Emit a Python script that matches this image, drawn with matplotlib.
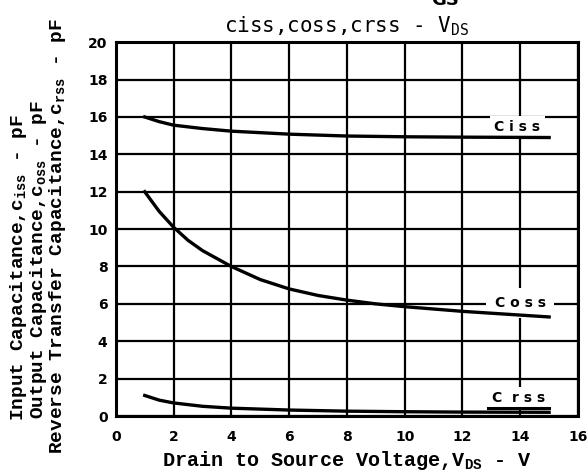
import matplotlib
matplotlib.use("Agg")
import matplotlib.pyplot as plt
from matplotlib.lines import Line2D

plt.rcParams['mathtext.fontset'] = 'custom'
plt.rcParams['mathtext.rm'] = 'Liberation Mono:bold'
plt.rcParams['mathtext.sf'] = 'DejaVu Sans Mono'

# data (V_DS in V, capacitance in pF)
vds_ciss = [1, 1.5, 2, 3, 4, 6, 8, 10, 12, 15]
ciss = [16.0, 15.75, 15.56, 15.38, 15.24, 15.08, 14.98, 14.94, 14.92, 14.9]

vds_coss = [1, 1.5, 2, 2.5, 3, 4, 5, 6, 7, 8, 9, 10, 12, 14, 15]
coss = [12.0, 10.95, 10.1, 9.4, 8.85, 8.0, 7.3, 6.8, 6.45, 6.2, 6.0, 5.85, 5.6, 5.4, 5.3]

vds_crss = [1, 1.5, 2, 3, 4, 6, 8, 10, 12, 15]
crss = [1.1, 0.85, 0.7, 0.52, 0.42, 0.32, 0.26, 0.23, 0.21, 0.2]

xticks = list(range(0, 17, 2))
yticks = list(range(0, 21, 2))

fig = plt.figure(figsize=(5.88, 4.72), dpi=100)
ax = fig.add_axes([0.197, 0.1186, 0.786, 0.792])

ax.set_xlim(0, 16)
ax.set_ylim(0, 20)
ax.set_xticks(xticks)
ax.set_yticks(yticks)
ax.grid(True, color='black', linewidth=1.6)
ax.set_axisbelow(True)
for s in ax.spines.values():
    s.set_linewidth(2.2)
ax.tick_params(length=0, labelsize=10)
ax.tick_params(axis='x', pad=10)
ax.tick_params(axis='y', pad=6)
for lab in ax.get_xticklabels() + ax.get_yticklabels():
    lab.set_fontweight('bold')

# curves sit on top of the white label boxes
ax.plot(vds_ciss, ciss, color='black', linewidth=2.4, zorder=7)
ax.plot(vds_coss, coss, color='black', linewidth=2.4, zorder=7)
ax.plot(vds_crss, crss, color='black', linewidth=2.4, zorder=7)

box = dict(facecolor='white', edgecolor='none', pad=3)
ax.text(13.9, 15.45, 'C i s s', fontsize=10, fontweight='bold',
        ha='center', va='center', bbox=box, zorder=5)
ax.text(14.0, 6.05, 'C o s s', fontsize=10, fontweight='bold',
        ha='center', va='center', bbox=dict(facecolor='white', edgecolor='none', pad=6), zorder=5)
t_crss = ax.text(13.95, 0.95, 'C  r s s', fontsize=10, fontweight='bold',
                 ha='center', va='center', bbox=box, zorder=5)

ax.set_title(r'ciss,coss,crss - V$_{\mathsf{DS}}$', fontsize=15,
             family='DejaVu Sans Mono', pad=7)
ax.set_xlabel(r'Drain to Source Voltage,V$_{\mathrm{DS}}$ - V', fontsize=14.5,
              family='Liberation Mono', fontweight='bold', labelpad=4)

ylab_font = dict(fontsize=14, family='Liberation Mono', fontweight='bold',
                 rotation=90, ha='center', va='center')
fig.text(0.032, 0.434, r'Input Capacitance,c$_{\mathrm{iss}}$ - pF', **ylab_font)
fig.text(0.065, 0.449, r'Output Capacitance,c$_{\mathrm{oss}}$ - pF', **ylab_font)
fig.text(0.098, 0.50, r'Reverse Transfer Capacitance,c$_{\mathrm{rss}}$ - pF', **ylab_font)

# clipped subscript left over from the heading above the chart
fig.text(0.757, 1.0, 'GS', fontsize=13, fontweight='bold', ha='center', va='center')

# underline under the crss label, taken from the text's own extent
fig.canvas.draw()
bb = t_crss.get_window_extent()
line = Line2D([bb.x0 - 4, bb.x1 + 4], [bb.y0 - 3, bb.y0 - 3], color='black',
              linewidth=2.2, transform=None, zorder=6)
fig.add_artist(line)

fig.savefig('out.png', dpi=100)
